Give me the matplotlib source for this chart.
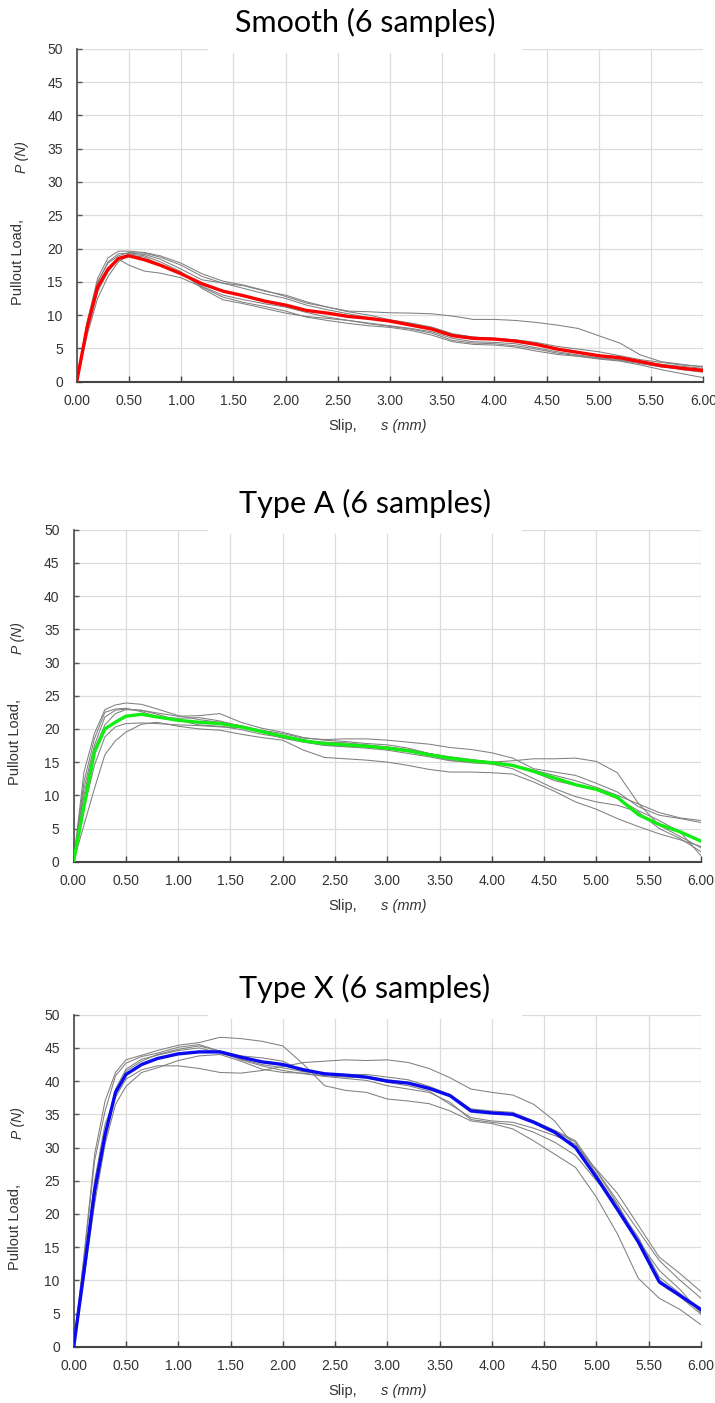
import matplotlib
matplotlib.use("Agg")
import matplotlib.pyplot as plt
from matplotlib.patches import Rectangle

# slip positions (mm) shared by every curve
slip = [0.0, 0.1, 0.2, 0.3, 0.4, 0.5, 0.65, 0.8, 1.0, 1.2, 1.4, 1.6, 1.8, 2.0, 2.2, 2.4, 2.6,
        2.8, 3.0, 3.2, 3.4, 3.6, 3.8, 4.0, 4.2, 4.4, 4.6, 4.8, 5.0, 5.2, 5.4, 5.6, 5.8, 6.0]

smooth_samples = [
    [0, 9.0, 15.5, 18.6, 19.6, 19.6, 19.4, 18.9, 17.8, 16.2, 15.1, 14.5, 13.7, 12.8, 11.8, 11.2, 10.6,
     10.5, 10.35, 10.3, 10.2, 9.85, 9.35, 9.35, 9.2, 8.9, 8.5, 8.0, 6.9, 5.8, 4.0, 3.0, 2.6, 2.2],
    [0, 7.5, 13.5, 16.5, 18.4, 17.5, 16.6, 16.3, 15.6, 14.2, 12.7, 11.9, 11.3, 10.6, 9.7, 9.2, 8.75,
     8.4, 8.15, 7.7, 7.0, 6.0, 5.6, 5.5, 5.2, 4.6, 4.1, 3.8, 3.4, 3.1, 2.5, 1.8, 1.2, 0.6],
    [0, 8.5, 14.8, 18.0, 19.2, 19.3, 19.1, 18.4, 16.9, 15.3, 14.8, 14.4, 13.6, 13.0, 12.0, 11.2, 10.5,
     10.0, 9.3, 8.8, 8.2, 7.2, 6.7, 6.5, 6.2, 5.7, 5.0, 4.5, 4.0, 3.5, 3.0, 2.6, 2.3, 2.0],
    [0, 7.0, 12.5, 15.8, 18.0, 19.0, 18.7, 17.6, 16.4, 14.3, 13.0, 12.3, 11.7, 11.2, 10.4, 9.7, 9.2,
     8.8, 8.4, 8.0, 7.5, 6.5, 6.0, 5.9, 5.7, 5.1, 4.5, 4.0, 3.6, 3.3, 2.9, 2.4, 1.8, 1.4],
    [0, 7.8, 13.8, 17.0, 18.6, 19.2, 18.9, 18.0, 16.5, 14.0, 12.3, 11.7, 11.0, 10.3, 9.8, 9.5, 9.2,
     8.7, 8.3, 7.9, 7.3, 6.2, 5.8, 5.7, 5.4, 4.9, 4.3, 3.9, 3.5, 3.2, 2.7, 2.2, 1.9, 1.6],
    [0, 8.8, 15.0, 17.8, 18.9, 19.4, 19.3, 18.7, 17.5, 15.8, 14.8, 14.0, 13.2, 12.5, 11.5, 10.8, 10.2,
     9.6, 9.2, 8.7, 8.1, 7.1, 6.7, 6.5, 6.3, 5.9, 5.3, 4.9, 4.5, 3.9, 3.3, 2.9, 2.5, 2.3],
]
smooth_mean = [0, 8.2, 14.2, 16.9, 18.5, 18.9, 18.3, 17.5, 16.2, 14.7, 13.6, 12.9, 12.1, 11.5, 10.7,
               10.3, 9.8, 9.5, 9.1, 8.5, 7.9, 6.9, 6.5, 6.4, 6.1, 5.6, 4.9, 4.4, 3.9, 3.6, 3.0, 2.4,
               2.0, 1.7]

type_a_samples = [
    [0, 13.5, 19.3, 22.9, 23.6, 23.9, 23.7, 23.0, 22.0, 21.4, 21.0, 20.5, 19.8, 19.3, 18.6, 18.4, 18.5,
     18.5, 18.3, 18.0, 17.7, 17.2, 16.9, 16.4, 15.6, 14.0, 13.5, 13.0, 11.8, 10.5, 8.3, 7.0, 6.5, 5.9],
    [0, 11.0, 17.5, 21.8, 22.8, 23.0, 22.8, 22.4, 21.9, 22.0, 22.3, 21.0, 20.1, 19.5, 18.7, 18.3, 18.1,
     17.8, 17.6, 17.1, 16.3, 15.7, 15.3, 15.0, 15.2, 15.5, 15.5, 15.6, 15.1, 13.4, 8.8, 5.5, 3.8, 2.1],
    [0, 5.5, 11.0, 16.1, 18.2, 19.5, 20.7, 21.0, 20.4, 20.0, 19.8, 19.2, 18.7, 18.3, 16.8, 15.7, 15.5,
     15.3, 15.0, 14.5, 13.9, 13.5, 13.5, 13.4, 13.2, 12.0, 10.6, 9.0, 7.9, 6.5, 5.3, 4.2, 3.3, 2.3],
    [0, 10.0, 17.0, 20.6, 22.3, 22.9, 22.8, 22.2, 21.3, 20.6, 20.4, 19.9, 19.2, 18.7, 18.2, 18.0, 17.9,
     17.6, 17.3, 16.9, 16.3, 15.8, 15.4, 15.0, 14.6, 13.8, 13.0, 12.2, 11.2, 10.0, 8.7, 7.4, 6.6, 6.2],
    [0, 8.0, 14.5, 18.8, 20.3, 20.8, 20.9, 20.8, 20.6, 20.5, 20.3, 20.2, 19.6, 19.0, 18.4, 17.6, 17.4,
     17.3, 17.2, 16.8, 16.0, 15.3, 14.9, 14.7, 14.0, 12.5, 11.0, 9.8, 9.0, 8.5, 7.5, 5.0, 3.5, 1.5],
    [0, 12.0, 18.5, 22.5, 23.0, 23.1, 22.6, 21.8, 21.6, 21.7, 21.2, 20.4, 19.5, 18.6, 18.0, 17.5, 17.3,
     17.1, 16.8, 16.3, 15.8, 15.2, 15.0, 14.8, 14.5, 13.5, 12.2, 11.5, 10.8, 9.5, 7.7, 6.2, 4.5, 0.9],
]
type_a_mean = [0, 8.3, 16.5, 20.0, 21.0, 21.9, 22.2, 21.8, 21.3, 21.0, 20.8, 20.3, 19.6, 18.9, 18.2,
               17.8, 17.6, 17.4, 17.1, 16.7, 16.1, 15.6, 15.2, 14.9, 14.5, 13.6, 12.6, 11.6, 10.9,
               9.7, 7.1, 5.6, 4.5, 3.1]

type_x_samples = [
    [0, 14.0, 29.0, 37.0, 41.3, 43.2, 43.9, 44.6, 45.4, 45.8, 46.6, 46.4, 46.0, 45.3, 42.5, 39.3, 38.6,
     38.3, 37.3, 37.0, 36.6, 35.5, 34.0, 33.6, 32.8, 31.0, 29.0, 27.0, 22.5, 17.0, 10.3, 7.3, 5.6, 3.3],
    [0, 12.0, 25.0, 33.5, 37.6, 40.3, 41.7, 42.3, 42.3, 41.9, 41.3, 41.2, 41.6, 42.2, 42.8, 43.0, 43.2,
     43.1, 43.2, 42.8, 41.9, 40.5, 38.8, 38.3, 37.9, 36.5, 34.0, 30.0, 26.7, 23.1, 18.3, 13.5, 11.0, 8.3],
    [0, 13.5, 28.0, 35.5, 40.8, 42.7, 43.7, 44.2, 45.1, 45.5, 44.5, 43.2, 42.3, 41.6, 41.1, 40.7, 40.4,
     40.1, 39.3, 38.8, 38.3, 36.8, 34.2, 33.8, 33.4, 32.3, 30.8, 28.8, 25.0, 21.5, 16.0, 11.5, 8.6, 5.0],
    [0, 11.0, 22.5, 31.5, 38.0, 41.5, 43.0, 44.0, 44.8, 45.3, 44.5, 43.8, 43.5, 43.0, 41.5, 41.0, 41.0,
     41.0, 40.6, 40.2, 39.2, 38.0, 35.8, 35.5, 35.3, 34.0, 32.6, 31.0, 26.5, 22.0, 17.5, 13.0, 10.0, 7.3],
    [0, 10.5, 21.5, 30.5, 36.5, 39.2, 41.3, 42.0, 43.1, 43.8, 44.0, 43.0, 41.8, 41.3, 41.2, 40.8, 40.6,
     40.5, 39.8, 39.3, 38.5, 36.5, 34.5, 34.0, 33.8, 32.9, 31.8, 30.5, 26.5, 21.5, 15.5, 9.5, 7.5, 4.9],
    [0, 11.5, 23.0, 32.0, 38.8, 41.8, 43.3, 43.9, 44.6, 45.0, 44.2, 43.3, 42.5, 42.0, 41.4, 41.2, 40.9,
     40.7, 40.2, 39.8, 39.0, 37.8, 35.8, 35.3, 35.0, 34.0, 32.5, 30.8, 26.0, 21.0, 16.5, 10.5, 8.0, 5.2],
]
type_x_mean = [0, 11.5, 23.5, 31.9, 38.3, 41.0, 42.5, 43.4, 44.1, 44.4, 44.4, 43.6, 42.9, 42.5, 41.7,
               41.1, 40.9, 40.6, 40.0, 39.7, 38.9, 37.8, 35.5, 35.2, 35.0, 33.8, 32.3, 30.0, 25.5,
               20.7, 15.8, 9.8, 7.7, 5.6]

titles = ["Smooth (6 samples)", "Type A (6 samples)", "Type X (6 samples)"]
mean_colors = ["#ff0000", "#11ee11", "#0a0af0"]
x_ticks = [0.0, 0.5, 1.0, 1.5, 2.0, 2.5, 3.0, 3.5, 4.0, 4.5, 5.0, 5.5, 6.0]
y_ticks = [0, 5, 10, 15, 20, 25, 30, 35, 40, 45, 50]

W, H = 715, 1403
# axes boxes in pixels: left, right, top, bottom
boxes = [(76.7, 703.3, 48.7, 381.7),
         (73.5, 701.0, 529.7, 861.7),
         (73.7, 701.0, 1014.7, 1346.7)]

fig = plt.figure(figsize=(W / 100, H / 100), dpi=100)
fig.patch.set_facecolor("white")

tick_font = "Liberation Sans"
panels = [(smooth_samples, smooth_mean), (type_a_samples, type_a_mean), (type_x_samples, type_x_mean)]

for (samples, mean), title, color, (l, r, t, b) in zip(panels, titles, mean_colors, boxes):
    ax = fig.add_axes([l / W, 1 - b / H, (r - l) / W, (b - t) / H])
    for s in samples:
        ax.plot(slip, s, color="#808080", lw=0.75, zorder=2)
    ax.plot(slip, mean, color=color, lw=2.4, zorder=3)

    ax.set_xlim(0, 6)
    ax.set_ylim(0, 50)
    ax.set_xticks(x_ticks)
    ax.set_yticks(y_ticks)
    ax.set_xticklabels([f"{v:.2f}" for v in x_ticks], fontfamily=tick_font, fontsize=10, color="#333333")
    ax.set_yticklabels([str(v) for v in y_ticks], fontfamily=tick_font, fontsize=10, color="#333333")
    ax.grid(True, color="#dcdcdc", lw=0.9, zorder=0)
    ax.set_axisbelow(True)
    for side in ("top", "right"):
        ax.spines[side].set_visible(False)
    ax.spines["left"].set_color("#555555")
    ax.spines["left"].set_linewidth(1.3)
    ax.spines["bottom"].set_color("#444444")
    ax.spines["bottom"].set_linewidth(1.5)
    ax.tick_params(axis="x", direction="in", length=4.5, width=1, color="#444444", pad=9)
    ax.tick_params(axis="y", direction="in", length=3.5, width=1, color="#555555", pad=10)

    # axis labels: plain word followed by the italic symbol
    ax.text(-0.094, 0.36, "Pullout Load,", transform=ax.transAxes, rotation=90,
            ha="center", va="center", fontfamily=tick_font, fontsize=10.5, color="#333333")
    ax.text(-0.088, 0.675, "P (N)", transform=ax.transAxes, rotation=90,
            ha="center", va="center", fontfamily=tick_font, fontsize=10, style="italic", color="#333333")
    fig.text(343 / W, 1 - (b + 44) / H, "Slip,", ha="center", va="center",
             fontfamily=tick_font, fontsize=10.5, color="#333333")
    fig.text(404 / W, 1 - (b + 44) / H, "s (mm)", ha="center", va="center",
             fontfamily=tick_font, fontsize=10.5, style="italic", color="#333333")

    # white band behind the title hides the top of the grid
    fig.add_artist(Rectangle((208 / W, 1 - (t + 4) / H), (522 - 208) / W, 45 / H,
                             transform=fig.transFigure, facecolor="white", edgecolor="none", zorder=5))
    fig.text(365 / W, 1 - (t - 26) / H, title, ha="center", va="center",
             fontfamily="Lato", fontsize=22, color="black", zorder=6)

fig.savefig("out.png", dpi=100, facecolor="white")
